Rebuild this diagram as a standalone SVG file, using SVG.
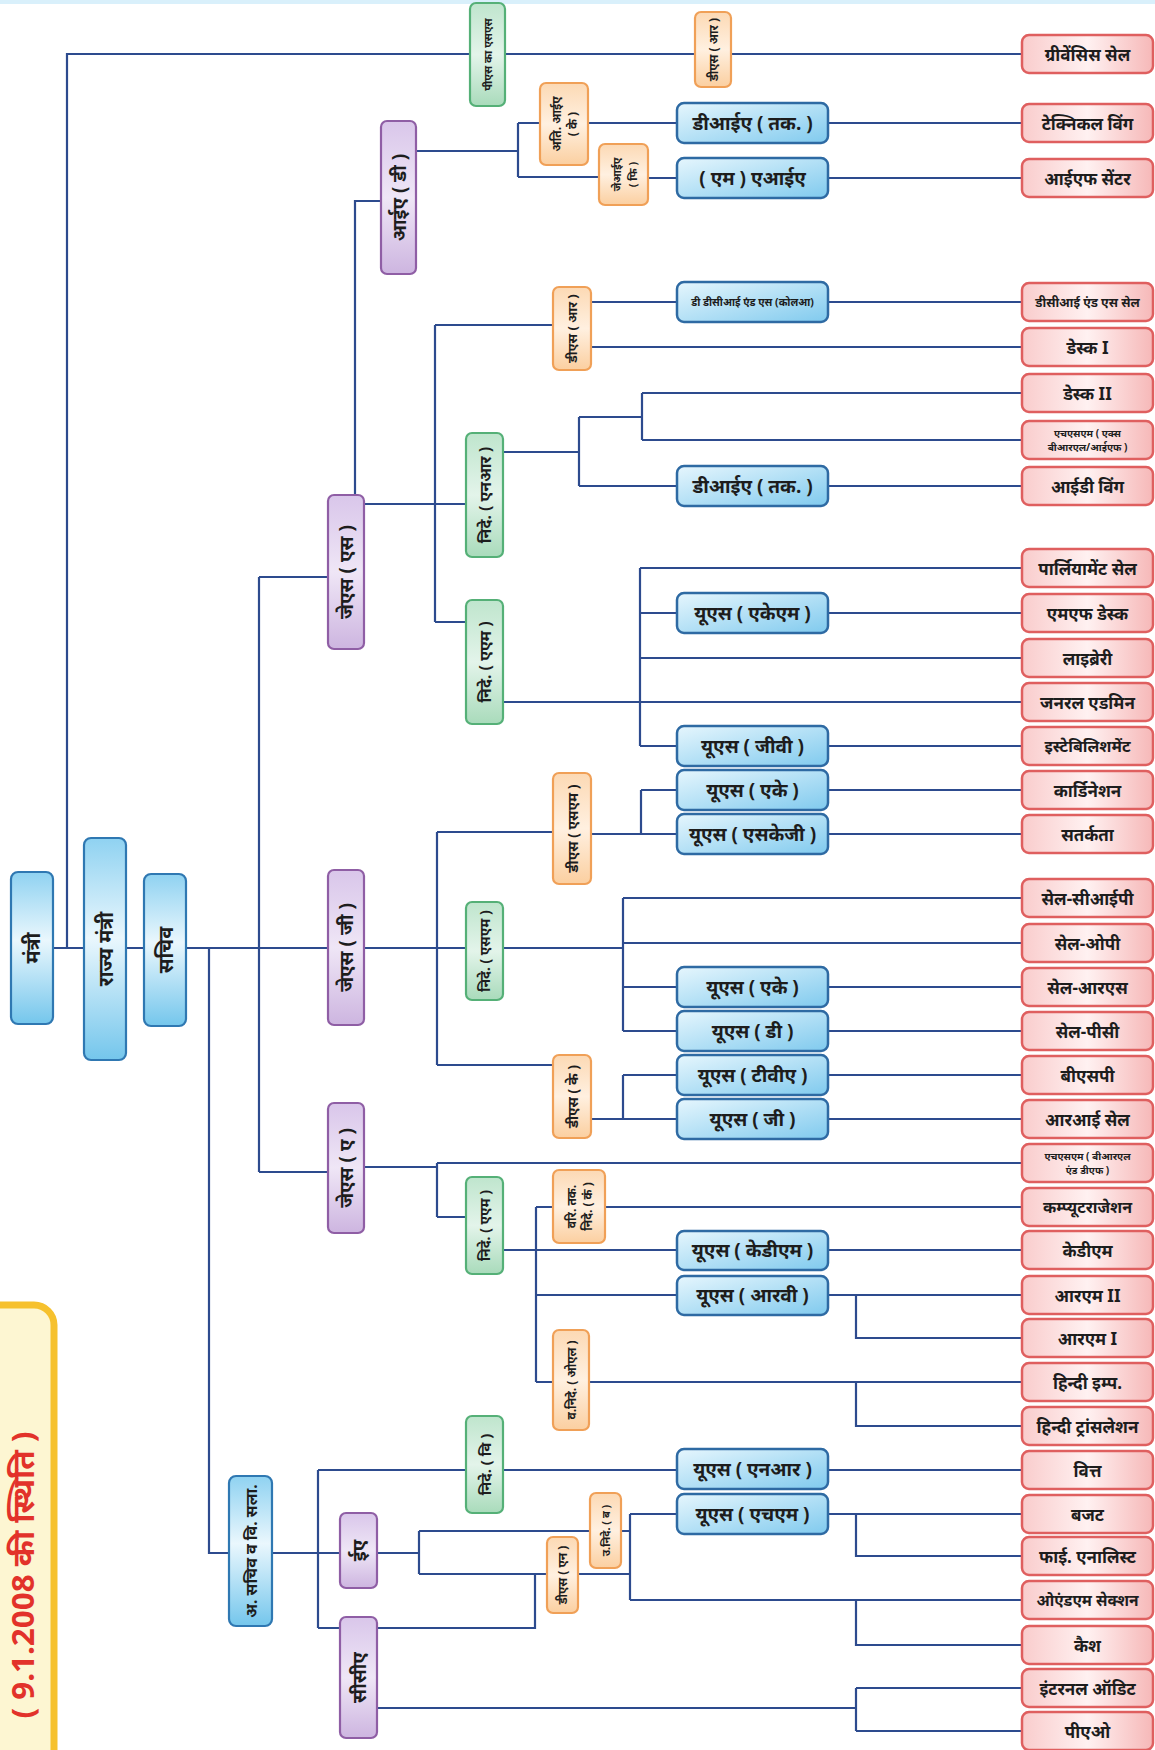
<svg xmlns="http://www.w3.org/2000/svg" width="1155" height="1750" viewBox="0 0 1155 1750">
<defs>
<linearGradient id="gBlueH" x1="0" y1="0" x2="1" y2="1"><stop offset="0" stop-color="#e6f6fd"/><stop offset="1" stop-color="#80caee"/></linearGradient>
<linearGradient id="gBlueV" x1="0" y1="0" x2="0" y2="1"><stop offset="0" stop-color="#8fd2f1"/><stop offset="0.45" stop-color="#eaf7fd"/><stop offset="1" stop-color="#74c6ec"/></linearGradient>
<linearGradient id="gRed" x1="0" y1="0" x2="1" y2="0"><stop offset="0" stop-color="#f9cccc"/><stop offset="0.5" stop-color="#fff1f1"/><stop offset="1" stop-color="#f6b8b8"/></linearGradient>
<linearGradient id="gPur" x1="0" y1="0" x2="0" y2="1"><stop offset="0" stop-color="#d9c6ea"/><stop offset="0.5" stop-color="#efe6f6"/><stop offset="1" stop-color="#cdb5e0"/></linearGradient>
<linearGradient id="gGrn" x1="0" y1="0" x2="0" y2="1"><stop offset="0" stop-color="#bfe5cd"/><stop offset="0.5" stop-color="#e3f4ea"/><stop offset="1" stop-color="#a9dbbb"/></linearGradient>
<linearGradient id="gOrg" x1="0" y1="0" x2="0" y2="1"><stop offset="0" stop-color="#fcd9b4"/><stop offset="0.5" stop-color="#fff0e0"/><stop offset="1" stop-color="#fbcfa0"/></linearGradient>
<style>
text{font-family:"Noto Sans","Liberation Sans",sans-serif;font-weight:bold;fill:#1d1d1d;text-anchor:middle;dominant-baseline:central}
.ln{stroke:#2d4b8e;stroke-width:2.2;fill:none}
.rd rect{fill:url(#gRed);stroke:#df5f5f;stroke-width:2.5}
.rd text{font-size:17px}
.bl rect{fill:url(#gBlueH);stroke:#2e6aa3;stroke-width:2.5}
.bl text{font-size:19px}
.bv rect{fill:url(#gBlueV);stroke:#2f78b2;stroke-width:2.2}
.bv text{font-size:20px}
.pu rect{fill:url(#gPur);stroke:#8f5ea5;stroke-width:2.2}
.pu text{font-size:19px}
.gr rect{fill:url(#gGrn);stroke:#55b077;stroke-width:2.2}
.gr text{font-size:14px}
.or rect{fill:url(#gOrg);stroke:#f0a057;stroke-width:2.2}
.or text{font-size:12px}
.sm{font-size:10px !important}
</style>
</defs>
<rect x="0" y="0" width="1155" height="1750" fill="#ffffff"/>
<rect x="0" y="0" width="1155" height="4" fill="#d9f0fb"/>

<g id="note">
<rect x="-30" y="1305" width="84" height="500" rx="20" fill="#fdf6d2" stroke="#f6c12e" stroke-width="7"/>
<text transform="translate(34,1575) rotate(-90)" style="font-size:30px;fill:#e2322a;dominant-baseline:alphabetic" textLength="287" lengthAdjust="spacingAndGlyphs">( 9.1.2008 की स्थिति )</text>
</g>

<g id="connectors">
<path class="ln" d="M53,948H84M126,948H144M186,948H328M67,948V54H470M505,54H695M731,54H1022"/>
<path class="ln" d="M209,948V1553H229M259,577V1172M259,577H328M259,1172H328"/>
<path class="ln" d="M355,495V201H381M416,151H518M518,123V177M518,123H540M518,177H599M588,123H677M828,123H1022M648,178H677M828,178H1022"/>
<path class="ln" d="M364,504H466M435,325V622M435,325H553M435,622H466M591,302H677M828,302H1022M591,347H1022"/>
<path class="ln" d="M503,452H579M579,417V486M579,417H642M642,393V440M642,393H1022M642,440H1022M579,486H677M828,486H1022"/>
<path class="ln" d="M503,702H1022M640,568V746M640,568H1022M640,613H677M828,613H1022M640,658H1022M640,746H677M828,746H1022"/>
<path class="ln" d="M364,948H466M437,832V1065M437,832H553M437,1065H553M591,834H677M641,790V834M641,790H677M828,790H1022M828,834H1022"/>
<path class="ln" d="M503,948H623M623,898V1031M623,898H1022M623,943H1022M623,987H677M828,987H1022M623,1031H677M828,1031H1022"/>
<path class="ln" d="M591,1119H677M623,1075V1119M623,1075H677M828,1075H1022M828,1119H1022"/>
<path class="ln" d="M364,1167H437M437,1163V1217M437,1163H1022M437,1217H466"/>
<path class="ln" d="M503,1250H677M536,1207V1382M536,1207H553M605,1207H1022M536,1295H677M828,1250H1022M828,1295H1022M856,1295V1338H1022M536,1382H553M589,1382H1022M856,1382V1426H1022"/>
<path class="ln" d="M272,1553H340M318,1470V1628M318,1470H466M503,1470H677M828,1470H1022M318,1628H340"/>
<path class="ln" d="M377,1553H419M419,1531V1574M419,1531H590M419,1574H547M377,1628H535V1574M621,1531H630M578,1574H630M630,1514V1600M630,1514H677M828,1514H1022M856,1514V1556H1022M630,1600H1022M856,1600V1645H1022"/>
<path class="ln" d="M377,1708H856M856,1688V1731M856,1688H1022M856,1731H1022"/>
</g>

<g id="n-mantri" class="bv"><rect x="11" y="872" width="42" height="152" rx="7"/><text transform="translate(32,948) rotate(-90)">मंत्री</text></g>
<g id="n-rajya" class="bv"><rect x="84" y="838" width="42" height="222" rx="7"/><text transform="translate(105,949) rotate(-90)">राज्य मंत्री</text></g>
<g id="n-sachiv" class="bv"><rect x="144" y="874" width="42" height="152" rx="7"/><text transform="translate(165,950) rotate(-90)">सचिव</text></g>
<g id="n-as" class="bv"><rect x="229" y="1476" width="43" height="150" rx="7"/><text transform="translate(250.5,1551) rotate(-90)" style="font-size:16px">अ. सचिव व वि. सला.</text></g>

<g id="n-iad" class="pu"><rect x="381" y="121" width="35" height="153" rx="6"/><text transform="translate(398.5,197.5) rotate(-90)">आईए ( डी )</text></g>
<g id="n-jss" class="pu"><rect x="328" y="495" width="36" height="154" rx="6"/><text transform="translate(346,572) rotate(-90)">जेएस ( एस )</text></g>
<g id="n-jsg" class="pu"><rect x="328" y="870" width="36" height="155" rx="6"/><text transform="translate(346,947.5) rotate(-90)">जेएस ( जी )</text></g>
<g id="n-jsa" class="pu"><rect x="328" y="1103" width="36" height="130" rx="6"/><text transform="translate(346,1168) rotate(-90)">जेएस ( ए )</text></g>
<g id="n-ea" class="pu"><rect x="340" y="1513" width="37" height="75" rx="6"/><text transform="translate(358.5,1550.5) rotate(-90)">ईए</text></g>
<g id="n-cca" class="pu"><rect x="340" y="1617" width="37" height="121" rx="6"/><text transform="translate(358.5,1677.5) rotate(-90)">सीसीए</text></g>

<g id="n-psss" class="gr"><rect x="470" y="3" width="35" height="103" rx="6"/><text transform="translate(487.5,54.5) rotate(-90)" style="font-size:11px">पीएस का एसएस</text></g>
<g id="n-dnr" class="gr"><rect x="466" y="433" width="37" height="124" rx="6"/><text transform="translate(484.5,495) rotate(-90)" style="font-size:16px">निदे. ( एनआर )</text></g>
<g id="n-dam" class="gr"><rect x="466" y="600" width="37" height="124" rx="6"/><text transform="translate(484.5,662) rotate(-90)" style="font-size:16px">निदे. ( एएम )</text></g>
<g id="n-dsm" class="gr"><rect x="466" y="902" width="37" height="98" rx="6"/><text transform="translate(484.5,951) rotate(-90)">निदे. ( एसएम )</text></g>
<g id="n-dam2" class="gr"><rect x="466" y="1177" width="37" height="97" rx="6"/><text transform="translate(484.5,1225.5) rotate(-90)">निदे. ( एएम )</text></g>
<g id="n-dv" class="gr"><rect x="466" y="1416" width="37" height="97" rx="6"/><text transform="translate(484.5,1464.5) rotate(-90)" style="font-size:15px">निदे. ( वि )</text></g>

<g id="n-dsr1" class="or"><rect x="695" y="12" width="36" height="75" rx="6"/><text transform="translate(713,49.5) rotate(-90)">डीएस ( आर )</text></g>
<g id="n-aia" class="or"><rect x="540" y="83" width="48" height="82" rx="6"/><text transform="translate(564,124) rotate(-90)"><tspan x="0" dy="-8">अति. आईए</tspan><tspan x="0" dy="16">( के )</tspan></text></g>
<g id="n-jia" class="or"><rect x="599" y="144" width="49" height="61" rx="6"/><text transform="translate(623.5,174.5) rotate(-90)" style="font-size:11px"><tspan x="0" dy="-8">जेआईए</tspan><tspan x="0" dy="16">( फि )</tspan></text></g>
<g id="n-dsr2" class="or"><rect x="553" y="287" width="38" height="83" rx="6"/><text transform="translate(572,328.5) rotate(-90)" style="font-size:13px">डीएस ( आर )</text></g>
<g id="n-dssm" class="or"><rect x="553" y="773" width="38" height="111" rx="6"/><text transform="translate(572,828.5) rotate(-90)" style="font-size:14px">डीएस ( एसएम )</text></g>
<g id="n-dsk" class="or"><rect x="553" y="1055" width="38" height="83" rx="6"/><text transform="translate(572,1096.5) rotate(-90)" style="font-size:14px">डीएस ( के )</text></g>
<g id="n-vtn" class="or"><rect x="553" y="1170" width="52" height="73" rx="6"/><text transform="translate(579,1206.5) rotate(-90)"><tspan x="0" dy="-8">वरि. तक.</tspan><tspan x="0" dy="16">निदे. ( कं )</tspan></text></g>
<g id="n-vnol" class="or"><rect x="553" y="1330" width="36" height="100" rx="6"/><text transform="translate(571,1380) rotate(-90)">व.निदे. ( ओएल )</text></g>
<g id="n-undb" class="or"><rect x="590" y="1493" width="31" height="75" rx="6"/><text transform="translate(605.5,1530.5) rotate(-90)" style="font-size:11px">उ.निदे. ( ब )</text></g>
<g id="n-dsn" class="or"><rect x="547" y="1537" width="31" height="76" rx="6"/><text transform="translate(562.5,1575) rotate(-90)">डीएस ( एन )</text></g>

<g id="n-b1" class="bl"><rect x="677" y="103" width="151" height="40" rx="7"/><text x="752.5" y="123">डीआईए ( तक. )</text></g>
<g id="n-b2" class="bl"><rect x="677" y="158" width="151" height="40" rx="7"/><text x="752.5" y="178">( एम ) एआईए</text></g>
<g id="n-b3" class="bl"><rect x="677" y="282" width="151" height="40" rx="7"/><text x="752.5" y="302" style="font-size:10.5px">डी डीसीआई एंड एस (कोलआ)</text></g>
<g id="n-b4" class="bl"><rect x="677" y="466" width="151" height="40" rx="7"/><text x="752.5" y="486">डीआईए ( तक. )</text></g>
<g id="n-b5" class="bl"><rect x="677" y="593" width="151" height="40" rx="7"/><text x="752.5" y="613">यूएस ( एकेएम )</text></g>
<g id="n-b6" class="bl"><rect x="677" y="726" width="151" height="40" rx="7"/><text x="752.5" y="746">यूएस ( जीवी )</text></g>
<g id="n-b7" class="bl"><rect x="677" y="770" width="151" height="40" rx="7"/><text x="752.5" y="790">यूएस ( एके )</text></g>
<g id="n-b8" class="bl"><rect x="677" y="814" width="151" height="40" rx="7"/><text x="752.5" y="834">यूएस ( एसकेजी )</text></g>
<g id="n-b9" class="bl"><rect x="677" y="967" width="151" height="40" rx="7"/><text x="752.5" y="987">यूएस ( एके )</text></g>
<g id="n-b10" class="bl"><rect x="677" y="1011" width="151" height="40" rx="7"/><text x="752.5" y="1031">यूएस ( डी )</text></g>
<g id="n-b11" class="bl"><rect x="677" y="1055" width="151" height="40" rx="7"/><text x="752.5" y="1075">यूएस ( टीवीए )</text></g>
<g id="n-b12" class="bl"><rect x="677" y="1099" width="151" height="40" rx="7"/><text x="752.5" y="1119">यूएस ( जी )</text></g>
<g id="n-b13" class="bl"><rect x="677" y="1231" width="151" height="39" rx="7"/><text x="752.5" y="1250">यूएस ( केडीएम )</text></g>
<g id="n-b14" class="bl"><rect x="677" y="1276" width="151" height="39" rx="7"/><text x="752.5" y="1295">यूएस ( आरवी )</text></g>
<g id="n-b15" class="bl"><rect x="677" y="1449" width="151" height="40" rx="7"/><text x="752.5" y="1469">यूएस ( एनआर )</text></g>
<g id="n-b16" class="bl"><rect x="677" y="1494" width="151" height="40" rx="7"/><text x="752.5" y="1514">यूएस ( एचएम )</text></g>

<g id="n-r1" class="rd"><rect x="1022" y="35" width="131" height="38" rx="7"/><text x="1087.5" y="54">ग्रीवेंसिस सेल</text></g>
<g id="n-r2" class="rd"><rect x="1022" y="104" width="131" height="38" rx="7"/><text x="1087.5" y="123">टेक्निकल विंग</text></g>
<g id="n-r3" class="rd"><rect x="1022" y="159" width="131" height="38" rx="7"/><text x="1087.5" y="178">आईएफ सेंटर</text></g>
<g id="n-r4" class="rd"><rect x="1022" y="283" width="131" height="38" rx="7"/><text x="1087.5" y="302" style="font-size:12.5px">डीसीआई एंड एस सेल</text></g>
<g id="n-r5" class="rd"><rect x="1022" y="328" width="131" height="38" rx="7"/><text x="1087.5" y="347">डेस्क I</text></g>
<g id="n-r6" class="rd"><rect x="1022" y="374" width="131" height="38" rx="7"/><text x="1087.5" y="393">डेस्क II</text></g>
<g id="n-r7" class="rd"><rect x="1022" y="421" width="131" height="38" rx="7"/><text x="1087.5" y="440" class="sm"><tspan x="1087.5" dy="-7">एचएसएम ( एक्स</tspan><tspan x="1087.5" dy="14">बीआरएल/आईएफ )</tspan></text></g>
<g id="n-r8" class="rd"><rect x="1022" y="467" width="131" height="38" rx="7"/><text x="1087.5" y="486">आईडी विंग</text></g>
<g id="n-r9" class="rd"><rect x="1022" y="549" width="131" height="38" rx="7"/><text x="1087.5" y="568">पार्लियामेंट सेल</text></g>
<g id="n-r10" class="rd"><rect x="1022" y="594" width="131" height="38" rx="7"/><text x="1087.5" y="613">एमएफ डेस्क</text></g>
<g id="n-r11" class="rd"><rect x="1022" y="639" width="131" height="38" rx="7"/><text x="1087.5" y="658">लाइब्रेरी</text></g>
<g id="n-r12" class="rd"><rect x="1022" y="683" width="131" height="38" rx="7"/><text x="1087.5" y="702">जनरल एडमिन</text></g>
<g id="n-r13" class="rd"><rect x="1022" y="727" width="131" height="38" rx="7"/><text x="1087.5" y="746" style="font-size:16px">इस्टेबिलिशमेंट</text></g>
<g id="n-r14" class="rd"><rect x="1022" y="771" width="131" height="38" rx="7"/><text x="1087.5" y="790">कार्डिनेशन</text></g>
<g id="n-r15" class="rd"><rect x="1022" y="815" width="131" height="38" rx="7"/><text x="1087.5" y="834">सतर्कता</text></g>
<g id="n-r16" class="rd"><rect x="1022" y="879" width="131" height="38" rx="7"/><text x="1087.5" y="898">सेल-सीआईपी</text></g>
<g id="n-r17" class="rd"><rect x="1022" y="924" width="131" height="38" rx="7"/><text x="1087.5" y="943">सेल-ओपी</text></g>
<g id="n-r18" class="rd"><rect x="1022" y="968" width="131" height="38" rx="7"/><text x="1087.5" y="987">सेल-आरएस</text></g>
<g id="n-r19" class="rd"><rect x="1022" y="1012" width="131" height="38" rx="7"/><text x="1087.5" y="1031">सेल-पीसी</text></g>
<g id="n-r20" class="rd"><rect x="1022" y="1056" width="131" height="38" rx="7"/><text x="1087.5" y="1075">बीएसपी</text></g>
<g id="n-r21" class="rd"><rect x="1022" y="1100" width="131" height="38" rx="7"/><text x="1087.5" y="1119">आरआई सेल</text></g>
<g id="n-r22" class="rd"><rect x="1022" y="1144" width="131" height="38" rx="7"/><text x="1087.5" y="1163" class="sm"><tspan x="1087.5" dy="-7">एचएसएम ( बीआरएल</tspan><tspan x="1087.5" dy="14">एंड डीएफ )</tspan></text></g>
<g id="n-r23" class="rd"><rect x="1022" y="1188" width="131" height="38" rx="7"/><text x="1087.5" y="1207" style="font-size:16px">कम्प्यूटराजेशन</text></g>
<g id="n-r24" class="rd"><rect x="1022" y="1231" width="131" height="38" rx="7"/><text x="1087.5" y="1250">केडीएम</text></g>
<g id="n-r25" class="rd"><rect x="1022" y="1276" width="131" height="38" rx="7"/><text x="1087.5" y="1295">आरएम II</text></g>
<g id="n-r26" class="rd"><rect x="1022" y="1319" width="131" height="38" rx="7"/><text x="1087.5" y="1338">आरएम I</text></g>
<g id="n-r27" class="rd"><rect x="1022" y="1363" width="131" height="38" rx="7"/><text x="1087.5" y="1382">हिन्दी इम्प.</text></g>
<g id="n-r28" class="rd"><rect x="1022" y="1407" width="131" height="38" rx="7"/><text x="1087.5" y="1426">हिन्दी ट्रांसलेशन</text></g>
<g id="n-r29" class="rd"><rect x="1022" y="1451" width="131" height="38" rx="7"/><text x="1087.5" y="1470">वित्त</text></g>
<g id="n-r30" class="rd"><rect x="1022" y="1495" width="131" height="38" rx="7"/><text x="1087.5" y="1514">बजट</text></g>
<g id="n-r31" class="rd"><rect x="1022" y="1537" width="131" height="38" rx="7"/><text x="1087.5" y="1556">फाई. एनालिस्ट</text></g>
<g id="n-r32" class="rd"><rect x="1022" y="1581" width="131" height="38" rx="7"/><text x="1087.5" y="1600" style="font-size:15.5px">ओएंडएम सेक्शन</text></g>
<g id="n-r33" class="rd"><rect x="1022" y="1626" width="131" height="38" rx="7"/><text x="1087.5" y="1645">कैश</text></g>
<g id="n-r34" class="rd"><rect x="1022" y="1669" width="131" height="38" rx="7"/><text x="1087.5" y="1688">इंटरनल ऑडिट</text></g>
<g id="n-r35" class="rd"><rect x="1022" y="1712" width="131" height="38" rx="7"/><text x="1087.5" y="1731">पीएओ</text></g>
</svg>
